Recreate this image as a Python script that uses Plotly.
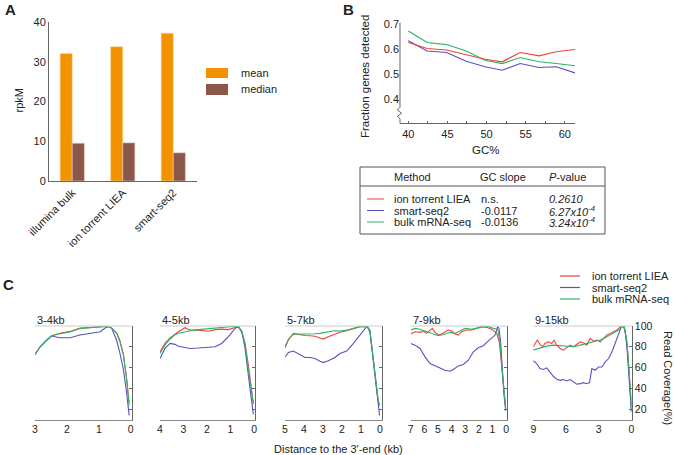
import plotly.graph_objects as go

W, H = 675, 455
FONT = "Liberation Sans, Arial, sans-serif"
TXT = "#222222"

# ---------------- Panel A data ----------------
methods = ["illumina bulk", "ion torrent LIEA", "smart-seq2"]
rpkm_mean = [32.1, 33.8, 37.2]
rpkm_median = [9.5, 9.6, 7.1]

# ---------------- Panel B data ----------------
gc_pct = [40.0, 42.4, 44.9, 47.4, 49.8, 52.0, 54.3, 56.7, 58.9, 61.3]
frac_ion = [0.627, 0.603, 0.597, 0.579, 0.560, 0.550, 0.587, 0.574, 0.590, 0.599]
frac_smart = [0.634, 0.593, 0.587, 0.552, 0.530, 0.516, 0.543, 0.527, 0.530, 0.505]
frac_bulk = [0.673, 0.627, 0.619, 0.593, 0.556, 0.543, 0.567, 0.550, 0.543, 0.534]

table_methods = ["ion torrent LIEA", "smart-seq2", "bulk mRNA-seq"]
table_slopes = ["n.s.", "-0.0117", "-0.0136"]
table_pvalues = ["0.2610", "6.27x10<sup>-4</sup>", "3.24x10<sup>-4</sup>"]

# ---------------- Panel C data ----------------
c_titles = ["3-4kb", "4-5kb", "5-7kb", "7-9kb", "9-15kb"]
c_xmax = [3, 4, 5, 7, 9]
c_ticks = [[3, 2, 1, 0], [4, 3, 2, 1, 0], [5, 4, 3, 2, 1, 0],
           [7, 6, 5, 4, 3, 2, 1, 0], [9, 6, 3, 0]]

p1_x = [3.0, 2.84, 2.63, 2.48, 2.22, 1.90, 1.59, 1.28, 0.96, 0.80, 0.70, 0.60, 0.44, 0.34, 0.23, 0.13, 0.05]
p1_ion = [72.6, 80, 86.5, 90.6, 93, 94.8, 98, 98.8, 99.4, 99.8, 99.6, 98, 93.5, 86, 73, 50, 26]
p1_smart = [72.6, 80, 86.5, 90.3, 88.7, 88.7, 91.3, 92.9, 94.5, 98, 99.4, 98, 86, 74, 58, 36, 14]
p1_bulk = [72.6, 80, 86.5, 90.6, 92.5, 94.3, 97.5, 98.7, 99.4, 99.8, 99.6, 98, 93, 85, 72, 49, 23.5]

p2_x = [4.0, 3.79, 3.57, 3.36, 3.22, 2.94, 2.72, 2.37, 1.94, 1.66, 1.38, 1.09, 0.81, 0.67, 0.52, 0.38, 0.24, 0.10, 0.03]
p2_ion = [75.2, 83.2, 88.5, 92.5, 94.5, 98.4, 96, 96, 95, 96.5, 97, 96.5, 99, 99.5, 94, 83, 62, 33, 25]
p2_smart = [68.7, 78.4, 83.2, 82.3, 80.5, 79.4, 78.4, 78.8, 79.4, 80, 83.2, 89.7, 97.5, 99.4, 94.5, 78, 52, 27, 15]
p2_bulk = [73.5, 81.6, 87.5, 91.5, 93, 94.7, 95.5, 96.5, 97.5, 98, 98.4, 99, 99.6, 100, 95, 82, 58, 32, 25]

p3_x = [5.0, 4.82, 4.56, 4.21, 3.95, 3.68, 3.42, 3.16, 2.98, 2.72, 2.37, 2.11, 1.75, 1.40, 1.05, 0.79, 0.67, 0.53, 0.44, 0.35, 0.26, 0.18, 0.09, 0.02]
p3_ion = [79, 86.5, 92.9, 91.3, 90.8, 90.6, 90.2, 88.5, 87.4, 89.7, 92.5, 94, 95.5, 97.7, 99.4, 99.6, 99, 96, 81.6, 70, 55.8, 42, 27, 23.5]
p3_smart = [70.3, 74.5, 75.9, 72.6, 69.7, 69.7, 68.7, 66.1, 64.8, 66.5, 69.7, 73.5, 75.8, 83.2, 91.3, 97.7, 100, 94, 80, 68.7, 52, 39.7, 25, 14]
p3_bulk = [80, 87.4, 92, 92, 92.2, 92.3, 92.6, 92.9, 93.5, 94.5, 95.4, 95.2, 96, 97.7, 99.4, 99.6, 99, 96, 81.6, 70, 56, 42, 28, 24]

p4_ion_x = [7.0, 6.68, 6.32, 6.07, 5.83, 5.58, 5.41, 5.22, 4.97, 4.73, 4.48, 4.24, 3.99, 3.75, 3.50, 3.26, 2.89, 2.53, 2.16, 1.79, 1.43, 1.06, 0.69, 0.50, 0.33, 0.15, 0.03]
p4_ion = [92.3, 94.5, 93.9, 95.2, 92.9, 96.1, 97.7, 93.9, 91.3, 92.3, 94.5, 96.1, 95.2, 92.3, 91.3, 94.5, 96.1, 96.1, 97.7, 99.4, 98.7, 97, 92.9, 84.8, 62.3, 36.5, 20.3]
p4_smart_x = [7.0, 6.68, 6.32, 5.95, 5.58, 5.22, 4.85, 4.48, 4.11, 3.87, 3.50, 3.14, 2.77, 2.40, 2.04, 1.67, 1.38, 1.06, 0.81, 0.62, 0.52, 0.40, 0.28, 0.15, 0.03]
p4_smart = [83.2, 81.6, 78.4, 70.3, 63.9, 61.6, 59, 57.4, 56.5, 58.1, 61.6, 62.9, 67.1, 75.2, 79, 81, 84.8, 88.1, 91.3, 99.4, 97.7, 84.8, 59, 33, 18.7]
p4_bulk_x = [7.0, 6.68, 6.32, 5.83, 5.34, 4.97, 4.60, 4.11, 3.75, 3.38, 3.01, 2.53, 2.04, 1.67, 1.30, 0.94, 0.62, 0.45, 0.28, 0.13, 0.01]
p4_bulk = [96.1, 97.7, 96.8, 94.5, 92.3, 90.6, 91.9, 93.9, 92.9, 95.2, 97.7, 96.8, 98.7, 99.4, 99.4, 97.7, 97, 84.8, 55.8, 30, 18.7]

p5_ion_x = [9.0, 8.85, 8.63, 8.39, 8.14, 7.93, 7.62, 7.31, 7.10, 6.85, 6.54, 6.24, 5.93, 5.62, 5.31, 5.01, 4.70, 4.39, 4.09, 3.78, 3.47, 3.16, 2.86, 2.55, 2.24, 1.94, 1.63, 1.32, 1.08, 0.86, 0.65, 0.47, 0.31, 0.15, 0.01]
p5_ion = [80, 83.2, 86.5, 82.3, 80, 83.2, 84.8, 83.2, 86.5, 81.6, 78.4, 76.8, 79, 81.6, 80, 82.3, 84.8, 83.9, 81.6, 88.1, 85.5, 86.5, 84.8, 88.1, 91.3, 92.9, 94.5, 96.1, 98.7, 100, 98.4, 88.1, 71.9, 46.1, 23.5]
p5_smart_x = [9.0, 8.69, 8.39, 8.08, 7.77, 7.46, 7.16, 6.85, 6.54, 6.24, 5.93, 5.62, 5.31, 5.01, 4.70, 4.39, 4.09, 3.84, 3.63, 3.32, 3.01, 2.70, 2.40, 2.09, 1.78, 1.48, 1.17, 0.95, 0.77, 0.58, 0.40, 0.22, 0.03, 0.01]
p5_smart = [66.5, 63.9, 59, 58.1, 59.7, 55.2, 51.6, 48.7, 47.7, 48.4, 47.1, 48.4, 46.1, 43.9, 44.5, 45.5, 44.5, 45.5, 59, 57.4, 60.6, 60.6, 65.5, 68.7, 75.2, 83.2, 92.9, 98.4, 100, 96.1, 78.4, 49.4, 23.5, 18.7]
p5_bulk_x = [9.0, 8.39, 7.77, 7.16, 6.54, 5.93, 5.31, 4.70, 4.09, 3.47, 2.86, 2.24, 1.63, 1.17, 0.86, 0.65, 0.40, 0.22, 0.03, 0.01]
p5_bulk = [76.8, 79, 80.6, 81.6, 81, 80, 80, 81.6, 83.2, 84.8, 86.5, 89.7, 92.9, 96.1, 99.4, 99.4, 84.8, 59, 30, 17]

c_series = [
    [(p1_x, p1_ion), (p1_x, p1_smart), (p1_x, p1_bulk)],
    [(p2_x, p2_ion), (p2_x, p2_smart), (p2_x, p2_bulk)],
    [(p3_x, p3_ion), (p3_x, p3_smart), (p3_x, p3_bulk)],
    [(p4_ion_x, p4_ion), (p4_smart_x, p4_smart), (p4_bulk_x, p4_bulk)],
    [(p5_ion_x, p5_ion), (p5_smart_x, p5_smart), (p5_bulk_x, p5_bulk)],
]
c_ytick = [20, 40, 60, 80, 100]

# ---------------- styles ----------------
COL_MEAN = "#F39200"
COL_MEDIAN = "#8B5748"
RED = "#ef4438"
BLUE = "#5b50bf"
GREEN = "#2db56a"
SER_COLORS = [RED, BLUE, GREEN]
AX = "#666666"


def X(px):
    return px / W


def Y(py):
    return 1 - py / H


fig = go.Figure()

# Panel A bars
fig.add_trace(go.Bar(x=methods, y=rpkm_mean, name="mean", marker=dict(color=COL_MEAN, line=dict(color="#fbd9a8", width=0.6)),
                     xaxis="x", yaxis="y", offsetgroup="a"))
fig.add_trace(go.Bar(x=methods, y=rpkm_median, name="median", marker=dict(color=COL_MEDIAN, line=dict(color="#e8cfc4", width=0.6)),
                     xaxis="x", yaxis="y", offsetgroup="b"))

# Panel B lines
for ys, col in [(frac_bulk, GREEN), (frac_smart, BLUE), (frac_ion, RED)]:
    fig.add_trace(go.Scatter(x=gc_pct, y=ys, mode="lines", line=dict(color=col, width=1.2),
                             xaxis="x2", yaxis="y2"))

# Panel C lines
c_dom = [(35, 131.7, -0.03), (160, 255, -0.04), (285, 381.5, -0.08), (410.7, 506.5, -0.03), (533.3, 631.7, -0.03)]
for i, series in enumerate(c_series):
    ax = i + 3
    for (xs, ys), col in zip(series, SER_COLORS):
        fig.add_trace(go.Scatter(x=xs, y=ys, mode="lines", line=dict(color=col, width=1.1),
                                 xaxis=f"x{ax}", yaxis=f"y{ax}"))

tickfont = dict(family=FONT, size=11, color=TXT)
layout = dict(
    template="none",
    width=W, height=H, autosize=False, margin=dict(l=0, r=0, t=0, b=0, pad=0),
    paper_bgcolor="white", plot_bgcolor="white", showlegend=False,
    font=dict(family=FONT, size=11, color=TXT),
    barmode="group", bargap=0.52, bargroupgap=0,
    xaxis=dict(domain=[X(49), X(197)], anchor="y", range=[-0.46, 2.47], showline=True, linecolor=AX,
               linewidth=1, ticks="", tickangle=-45, tickfont=tickfont, showgrid=False, zeroline=False,
               automargin=False),
    yaxis=dict(domain=[Y(181), Y(22)], anchor="x", range=[0, 40], dtick=10, showline=True, linecolor=AX,
               linewidth=1, ticks="", tickfont=tickfont, showgrid=False, zeroline=False, automargin=False),
    xaxis2=dict(domain=[X(400), X(575)], anchor="y2", range=[38.94, 61.3], tick0=40, dtick=5, showline=True,
                linecolor=AX, linewidth=1, ticks="inside", ticklen=2, tickcolor=AX,
                minor=dict(dtick=2.5, ticks="inside", ticklen=2, tickcolor=AX),
                tickfont=tickfont, showgrid=False, zeroline=False, automargin=False),
    yaxis2=dict(domain=[Y(123.3), Y(22.7)], anchor="x2", range=[0.3036, 0.7064],
                tickvals=[0.4, 0.5, 0.6, 0.7], ticktext=["0.4", "0.5", "0.6", "0.7"],
                showline=False, ticks="", tickfont=tickfont, showgrid=False, zeroline=False,
                automargin=False),
)
for i, (x0, x1, rlo) in enumerate(c_dom):
    ax = i + 3
    layout[f"xaxis{ax}"] = dict(domain=[X(x0), X(x1)], anchor=f"y{ax}", range=[c_xmax[i], rlo],
                                tickvals=c_ticks[i], ticks="", showline=True, linecolor="#888888",
                                linewidth=1.2, tickfont=dict(family=FONT, size=10.5, color=TXT),
                                showgrid=False, zeroline=False, automargin=False)
    layout[f"yaxis{ax}"] = dict(domain=[Y(419.5), Y(326)], anchor=f"x{ax}", range=[10, 100], side="right",
                                tickvals=c_ytick, ticks="inside", ticklen=3, tickcolor=AX,
                                showticklabels=(i == 4), showline=True, linecolor=AX, linewidth=1,
                                tickfont=dict(family=FONT, size=10.5, color=TXT),
                                showgrid=False, zeroline=False, automargin=False)
fig.update_layout(**layout)

shapes = []
annotations = []


def ann(x, y, text, size=11, xanchor="left", angle=0, bold=False, yanchor="middle"):
    annotations.append(dict(x=X(x), y=Y(y), xref="paper", yref="paper", text=(f"<b>{text}</b>" if bold else text),
                            showarrow=False, xanchor=xanchor, yanchor=yanchor, textangle=angle,
                            font=dict(family=FONT, size=size, color=TXT)))


def seg(x0, y0, x1, y1, color=AX, width=1):
    shapes.append(dict(type="line", xref="paper", yref="paper", x0=X(x0), y0=Y(y0), x1=X(x1), y1=Y(y1),
                       line=dict(color=color, width=width)))


# Panel labels
ann(3, 9, "A", size=15, bold=True)
ann(341, 9, "B", size=15, bold=True)
ann(1, 284, "C", size=15, bold=True)

# Panel A legend + y title
shapes.append(dict(type="rect", xref="paper", yref="paper", x0=X(206), x1=X(228), y0=Y(78), y1=Y(68),
                   fillcolor=COL_MEAN, line=dict(width=0)))
shapes.append(dict(type="rect", xref="paper", yref="paper", x0=X(206), x1=X(228), y0=Y(95), y1=Y(84),
                   fillcolor=COL_MEDIAN, line=dict(width=0)))
ann(239, 73, "mean")
ann(239, 89.5, "median")
ann(18.5, 101, "rpkM", angle=-90, xanchor="center")

# Panel B y axis with break
brk = [(400, 22.7), (400, 107.3), (397.3, 110), (401.7, 113.3), (397.3, 116.3), (400, 118.6), (400, 123.3)]
path = "M " + " L ".join(f"{X(a):.5f},{Y(b):.5f}" for a, b in brk)
shapes.append(dict(type="path", xref="paper", yref="paper", path=path, line=dict(color=AX, width=1)))
ann(365, 77, "Fraction genes detected", size=11.5, angle=-90, xanchor="center")
ann(485, 150, "GC%", size=11.5, xanchor="center")

# Table
shapes.append(dict(type="rect", xref="paper", yref="paper", x0=X(360), x1=X(605), y0=Y(234), y1=Y(167),
                   line=dict(color="#555555", width=1), fillcolor="rgba(0,0,0,0)"))
seg(360, 186, 605, 186, color="#555555")
ann(392, 177.5, "Method")
ann(478, 177.5, "GC slope")
ann(547, 177.5, "<i>P</i>-value")
row_y = [199, 210.5, 222]
for yy, name, slope, pv, col in zip(row_y, table_methods, table_slopes, table_pvalues, SER_COLORS):
    seg(367, yy, 384, yy, color=col, width=1)
    ann(392, yy, name)
    ann(479, yy, slope)
    ann(547, yy, f"<i>{pv}</i>")

# Panel C legend
for yy, name, col in zip([276, 287.5, 299], table_methods, SER_COLORS):
    seg(560, yy, 580, yy, color=col, width=1.2)
    ann(590, yy, name)

# Panel C titles, top lines
for i, (x0, x1, rlo) in enumerate(c_dom):
    ann(x0, 319.5, c_titles[i])
    seg(x0, 326, x1, 326, color="#cccccc", width=1)

ann(668, 378, "Read Coverage(%)", angle=90, xanchor="center")
ann(338, 449, "Distance to the 3'-end (kb)", xanchor="center")

fig.update_layout(shapes=shapes, annotations=annotations)
fig.write_html("out.html", config={"displayModeBar": False, "staticPlot": True},
               post_script="document.body.style.margin='0px';document.body.style.overflow='hidden';")
